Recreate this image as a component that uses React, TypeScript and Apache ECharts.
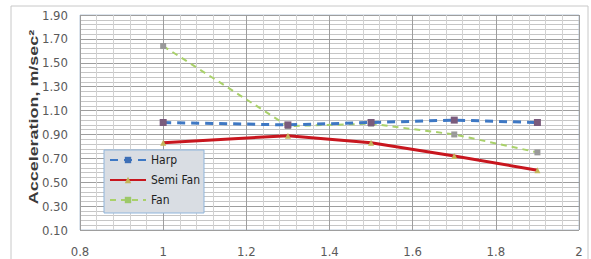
import React, { useEffect, useRef } from "react";
import * as echarts from "echarts";

const xValues = [1, 1.3, 1.5, 1.7, 1.9];
const harp = [1.0, 0.98, 1.0, 1.02, 1.0];
const semiFan = [0.83, 0.89, 0.83, 0.72, 0.6];
const fan = [1.64, 0.97, 0.99, 0.9, 0.75];
const seriesNames = ["Harp", "Semi Fan", "Fan"];
const yAxisTitle = "Acceleration, m/sec²";

const narrow = "'Liberation Sans Narrow', 'DejaVu Sans Condensed', 'Liberation Sans', Arial, sans-serif";

export default function App() {
  const ref = useRef<HTMLDivElement>(null);
  useEffect(() => {
    if (!ref.current) return;
    const chart = echarts.init(ref.current, null, { renderer: "svg" });
    const pairs = (ys: number[]) => xValues.map((x, i) => [x, ys[i]]);
    chart.setOption({
      animation: false,
      backgroundColor: "#ffffff",
      grid: { left: 80, right: 12, top: 15, bottom: 29, show: true, borderColor: "#b8c8da", borderWidth: 1, backgroundColor: "#fff" },
      xAxis: {
        type: "value",
        min: 0.8,
        max: 2,
        interval: 0.2,
        axisLine: { show: false },
        axisTick: { show: false },
        axisLabel: {
          margin: 15,
          color: "#5a5a5a",
          fontSize: 13,
          fontFamily: narrow,
          formatter: (v: number) => String(Math.round(v * 10) / 10),
        },
        splitLine: { show: true, lineStyle: { color: "#9e9e9e", width: 1 } },
        minorTick: { show: false, splitNumber: 5 },
        minorSplitLine: { show: true, lineStyle: { color: "#d2d2d2", width: 1 } },
      },
      yAxis: {
        type: "value",
        min: 0.1,
        max: 1.9,
        interval: 0.2,
        axisLine: { show: false },
        axisTick: { show: false },
        axisLabel: {
          margin: 12,
          color: "#5a5a5a",
          fontSize: 13,
          fontFamily: narrow,
          formatter: (v: number) => v.toFixed(2),
        },
        splitLine: { show: true, lineStyle: { color: "#9e9e9e", width: 1 } },
        minorTick: { show: false, splitNumber: 5 },
        minorSplitLine: { show: true, lineStyle: { color: "#c6c6c6", width: 1 } },
      },
      legend: {
        orient: "vertical",
        left: 104,
        top: 150,
        backgroundColor: "#d9dde3",
        borderColor: "#8fb5dc",
        borderWidth: 1,
        borderRadius: 0,
        padding: [4, 4, 7, 5],
        itemWidth: 36,
        itemHeight: 8,
        itemGap: 8,
        textStyle: { color: "#1e1e1e", fontSize: 12, fontFamily: narrow },
        data: [
          { name: seriesNames[0], itemStyle: { color: "#3e6fb6" } },
          { name: seriesNames[1], itemStyle: { color: "#c3b55a" } },
          { name: seriesNames[2], itemStyle: { color: "#9dc86a" } },
        ],
      },
      graphic: [
        {
          type: "rect",
          shape: { x: 11, y: 6, width: 577, height: 260 },
          style: { fill: "none", stroke: "#c8c8c8", lineWidth: 1 },
          silent: true,
          z: -10,
        },
        {
          type: "text",
          x: 33,
          y: 117,
          rotation: Math.PI / 2,
          scaleX: 1.38,
          scaleY: 1,
          style: {
            text: yAxisTitle,
            fill: "#3a3a3a",
            font: "bold 13px 'Liberation Sans', Arial, sans-serif",
            textAlign: "center",
            textVerticalAlign: "middle",
          },
        },
      ],
      series: [
        {
          name: seriesNames[0],
          type: "line",
          data: pairs(harp),
          symbol: "rect",
          symbolSize: 7,
          itemStyle: { color: "#7a5b7c" },
          lineStyle: { color: "#3e78c4", width: 3, type: [8, 6] },
          z: 3,
        },
        {
          name: seriesNames[1],
          type: "line",
          data: pairs(semiFan),
          symbol: "triangle",
          symbolSize: 6,
          itemStyle: { color: "#c3b55a" },
          lineStyle: { color: "#c8161e", width: 3, type: "solid" },
          z: 2,
        },
        {
          name: seriesNames[2],
          type: "line",
          data: pairs(fan),
          symbol: "rect",
          symbolSize: 6,
          itemStyle: { color: "#9a9a9a" },
          lineStyle: { color: "#a9d16a", width: 2, type: [6, 5] },
          z: 2,
        },
      ],
    });
    return () => chart.dispose();
  }, []);
  return <div ref={ref} style={{ position: "fixed", left: 0, top: 0, width: 591, height: 259 }} />;
}
